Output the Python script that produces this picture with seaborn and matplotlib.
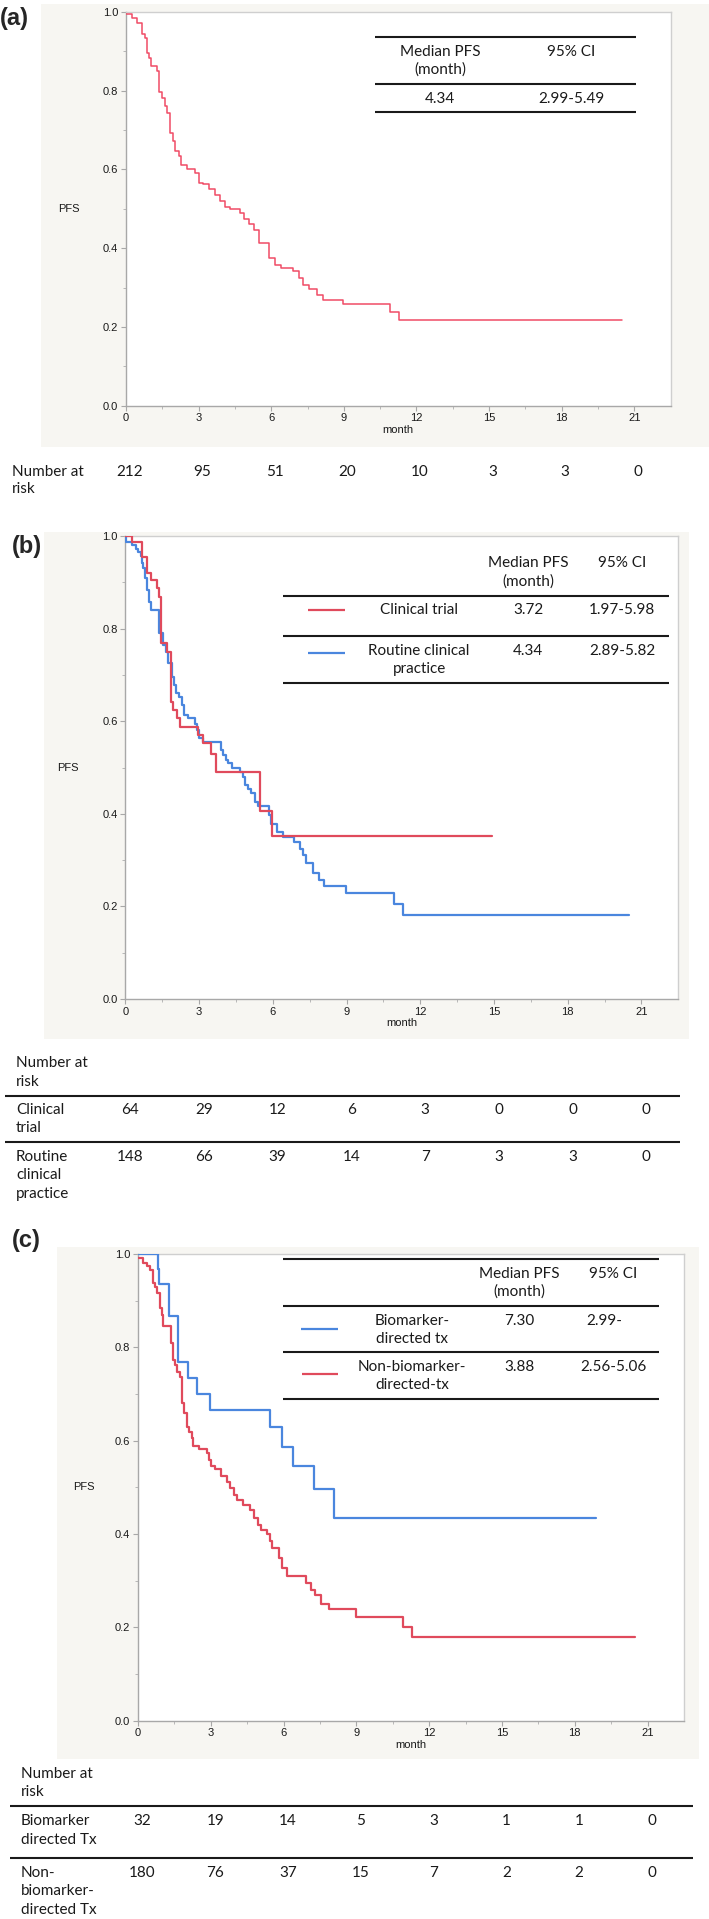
import matplotlib
matplotlib.use("Agg")
import numpy as np
import matplotlib.pyplot as plt
import seaborn as sns
from matplotlib.lines import Line2D
from matplotlib.patches import Rectangle
import matplotlib.transforms as mtrans

# ---------------- data ----------------
RISK_MONTHS = [0, 3, 6, 9, 12, 15, 18, 21]

# (a) overall
t_all = [0, 0.23, 0.44, 0.65, 0.79, 0.86, 0.93, 1.02, 1.27, 1.38, 1.48, 1.62, 1.71, 1.82, 1.93,
         2.03, 2.17, 2.28, 2.51, 2.86, 3.00, 3.20, 3.45, 3.69, 3.89, 4.10, 4.31, 4.72, 4.86, 5.07,
         5.27, 5.48, 5.89, 6.17, 6.41, 6.90, 7.14, 7.32, 7.55, 7.90, 8.13, 8.97, 10.9, 11.3, 20.5]
s_all = [0.994, 0.985, 0.972, 0.943, 0.934, 0.896, 0.883, 0.861, 0.850, 0.795, 0.782, 0.761, 0.744,
         0.693, 0.672, 0.646, 0.634, 0.612, 0.601, 0.591, 0.566, 0.562, 0.549, 0.536, 0.519, 0.504,
         0.498, 0.490, 0.473, 0.460, 0.447, 0.413, 0.375, 0.358, 0.350, 0.341, 0.324, 0.307, 0.295,
         0.282, 0.269, 0.257, 0.237, 0.218, 0.218]
risk_all = [212, 95, 51, 20, 10, 3, 3, 0]

# (b) clinical trial vs routine practice
t_trial = [0, 0.26, 0.67, 0.90, 1.03, 1.28, 1.38, 1.44, 1.68, 1.85, 1.96, 2.09, 2.23, 2.97, 3.17,
           3.47, 3.69, 5.48, 5.96, 14.9]
s_trial = [1.0, 0.986, 0.954, 0.921, 0.904, 0.887, 0.869, 0.768, 0.750, 0.642, 0.624, 0.606, 0.588,
           0.570, 0.552, 0.529, 0.491, 0.405, 0.351, 0.351]
t_routine = [0, 0.02, 0.26, 0.44, 0.53, 0.63, 0.67, 0.73, 0.80, 0.87, 0.95, 1.05, 1.38, 1.55, 1.64,
             1.75, 1.89, 1.98, 2.06, 2.20, 2.29, 2.40, 2.56, 2.84, 2.93, 3.01, 3.17, 3.89, 3.99, 4.10,
             4.19, 4.33, 4.67, 4.80, 4.87, 5.00, 5.10, 5.28, 5.41, 5.86, 5.93, 6.19, 6.43, 6.87, 7.11,
             7.23, 7.34, 7.63, 7.88, 8.09, 8.98, 10.92, 11.31, 20.5]
s_routine = [1.0, 0.986, 0.980, 0.973, 0.966, 0.957, 0.941, 0.930, 0.909, 0.883, 0.858, 0.840, 0.790,
             0.765, 0.750, 0.725, 0.696, 0.678, 0.660, 0.653, 0.635, 0.613, 0.606, 0.595, 0.582,
             0.563, 0.554, 0.538, 0.527, 0.516, 0.509, 0.500, 0.491, 0.480, 0.462, 0.453, 0.444,
             0.426, 0.417, 0.397, 0.379, 0.361, 0.350, 0.340, 0.325, 0.311, 0.293, 0.272, 0.257,
             0.243, 0.228, 0.205, 0.182, 0.182]
risk_trial = [64, 29, 12, 6, 3, 0, 0, 0]
risk_routine = [148, 66, 39, 14, 7, 3, 3, 0]

# (c) biomarker-directed vs non-biomarker-directed
t_bio = [0, 0.81, 0.88, 1.28, 1.64, 2.07, 2.42, 2.97, 5.46, 5.93, 6.37, 7.26, 8.09, 18.88]
s_bio = [1.0, 0.967, 0.935, 0.868, 0.769, 0.735, 0.701, 0.666, 0.630, 0.587, 0.546, 0.496, 0.435, 0.435]
t_nonbio = [0, 0.22, 0.38, 0.49, 0.60, 0.63, 0.68, 0.80, 0.91, 0.98, 1.02, 1.35, 1.43, 1.52, 1.59,
            1.73, 1.80, 1.89, 2.00, 2.11, 2.21, 2.28, 2.51, 2.83, 2.92, 2.99, 3.18, 3.42, 3.67, 3.80,
            3.97, 4.09, 4.31, 4.61, 4.78, 4.94, 5.07, 5.30, 5.44, 5.53, 5.81, 5.94, 6.16, 6.91, 7.11,
            7.30, 7.56, 7.87, 8.97, 10.9, 11.28, 20.5]
s_nonbio = [0.991, 0.980, 0.974, 0.966, 0.951, 0.937, 0.930, 0.916, 0.884, 0.869, 0.846, 0.809, 0.773,
            0.762, 0.748, 0.737, 0.680, 0.659, 0.630, 0.619, 0.605, 0.589, 0.582, 0.573, 0.559, 0.546,
            0.539, 0.524, 0.512, 0.498, 0.484, 0.473, 0.462, 0.451, 0.434, 0.419, 0.409, 0.400, 0.384,
            0.369, 0.348, 0.327, 0.310, 0.294, 0.280, 0.269, 0.251, 0.239, 0.223, 0.201, 0.179, 0.179]
risk_bio = [32, 19, 14, 5, 3, 1, 1, 0]
risk_nonbio = [180, 76, 37, 15, 7, 2, 2, 0]

# ---------------- style ----------------
sns.set_style("white")
plt.rcParams['font.family'] = ['Liberation Sans', 'DejaVu Sans']
TFONT = ['Lato', 'DejaVu Sans']
RED_A = '#f04c66'
RED = '#e04a5c'
BLUE = '#4a86de'
BG = '#f7f6f2'
TSIZE = 11

W, H = 709, 1919
fig = plt.figure(figsize=(W / 100, H / 100), dpi=100)


def fx(x):
    return x / W


def fy(y):
    return 1 - y / H


def bg(x0, y0, x1, y1):
    fig.patches.append(Rectangle((fx(x0), fy(y1)), (x1 - x0) / W, (y1 - y0) / H,
                                 transform=fig.transFigure, facecolor=BG, edgecolor='none', zorder=-5))


def hline(x0, x1, y, color='#1a1a1a', lw=1.5):
    fig.add_artist(Line2D([fx(x0), fx(x1)], [fy(y), fy(y)], transform=fig.transFigure,
                          color=color, lw=lw, solid_capstyle='butt', zorder=5))


def txt(x, y, s, ha='center', size=TSIZE):
    fig.text(fx(x), fy(y), s, ha=ha, va='center', fontsize=size, family=TFONT, color='#1a1a1a',
             zorder=6)


def make_ax(x0, x1, ytop, ybot):
    ax = fig.add_axes([fx(x0), fy(ybot), (x1 - x0) / W, (ybot - ytop) / H])
    ax.set_facecolor('white')
    ax.set_zorder(1)
    return ax


def style_ax(ax, label_x):
    ax.set_xlim(0, 22.5)
    ax.set_ylim(0, 1)
    ax.set_xticks(RISK_MONTHS)
    ax.set_xticks(np.arange(1.5, 22.5, 3), minor=True)
    yt = np.round(np.arange(0, 1.01, 0.2), 1)
    ax.set_yticks(yt)
    ax.set_yticklabels([f"{v:.1f}" for v in yt])
    ax.set_yticks(np.arange(0.1, 1.0, 0.2), minor=True)
    ax.tick_params(which='major', direction='out', length=3.4, width=0.8, color='#a8a8a8',
                   labelsize=8, labelcolor='#1a1a1a', pad=2.2, bottom=True, left=True)
    ax.tick_params(which='minor', direction='out', length=2.0, width=0.7, color='#b8b8b8',
                   bottom=True, left=True)
    for side in ['left', 'bottom']:
        ax.spines[side].set_color('#a8a8a8')
        ax.spines[side].set_linewidth(1.0)
    for side in ['top', 'right']:
        ax.spines[side].set_color('#cfcfcf')
        ax.spines[side].set_linewidth(1.0)
    ax.set_xlabel('month', fontsize=8, labelpad=1.2, color='#1a1a1a')
    ax.set_ylabel('PFS', fontsize=8, rotation=0, va='center', ha='center', color='#1a1a1a')
    ax.yaxis.set_label_coords(label_x, 0.5)


def km(ax, t, s, color, lw):
    sns.lineplot(x=t, y=s, ax=ax, color=color, lw=lw, drawstyle='steps-post',
                 estimator=None, sort=False, legend=False, zorder=3)


def risk_row(ax, values, y, shift=0.18):
    tr = mtrans.blended_transform_factory(ax.transData, fig.transFigure)
    for m, v in zip(RISK_MONTHS, values):
        fig.text(m + shift, fy(y), str(v), transform=tr, ha='center', va='center',
                 fontsize=TSIZE, family=TFONT, color='#1a1a1a', zorder=6)


# ---------------- panel (a) ----------------
bg(41, 4, 709, 447)
ax_a = make_ax(126, 670.5, 11.7, 405.7)
km(ax_a, t_all, s_all, RED_A, 1.1)
style_ax(ax_a, -0.105)
fig.text(fx(0), fy(18), '(a)', fontsize=17, fontweight='bold', ha='left', va='center')
hline(375, 636, 37); hline(375, 636, 84); hline(375, 636, 112)
txt(440, 52, 'Median PFS'); txt(440, 70, '(month)'); txt(571, 52, '95% CI')
txt(440, 99, '4.34'); txt(571, 99, '2.99-5.49')
txt(12, 472, 'Number at', ha='left'); txt(12, 489, 'risk', ha='left')
risk_row(ax_a, risk_all, 472, shift=0.15)

# ---------------- panel (b) ----------------
bg(44, 532, 689, 1039)
ax_b = make_ax(125.3, 678.3, 536, 999)
km(ax_b, t_routine, s_routine, BLUE, 1.6)
km(ax_b, t_trial, s_trial, RED, 1.6)
style_ax(ax_b, -0.104)
fig.text(fx(12), fy(546), '(b)', fontsize=17, fontweight='bold', ha='left', va='center')
txt(528, 563, 'Median PFS'); txt(528, 582, '(month)'); txt(622, 563, '95% CI')
hline(283, 669, 596)
hline(308, 345, 610, color=RED, lw=1.6)
txt(419, 610, 'Clinical trial'); txt(528, 610, '3.72'); txt(622, 610, '1.97-5.98')
hline(283, 669, 636)
hline(308, 345, 653, color=BLUE, lw=1.6)
txt(419, 651, 'Routine clinical'); txt(419, 669, 'practice')
txt(528, 651, '4.34'); txt(622, 651, '2.89-5.82')
hline(283, 669, 683)

txt(16, 1063, 'Number at', ha='left'); txt(16, 1082, 'risk', ha='left')
hline(5, 680, 1096)
txt(16, 1110, 'Clinical', ha='left'); txt(16, 1128, 'trial', ha='left')
risk_row(ax_b, risk_trial, 1110, shift=0.2)
hline(5, 680, 1142)
txt(16, 1157, 'Routine', ha='left'); txt(16, 1175, 'clinical', ha='left'); txt(16, 1194, 'practice', ha='left')
risk_row(ax_b, risk_routine, 1157, shift=0.2)

# ---------------- panel (c) ----------------
bg(57, 1247, 699, 1759)
ax_c = make_ax(138, 684, 1254, 1720.7)
km(ax_c, t_nonbio, s_nonbio, RED, 1.6)
km(ax_c, t_bio, s_bio, BLUE, 1.6)
style_ax(ax_c, -0.10)
fig.text(fx(12), fy(1240), '(c)', fontsize=17, fontweight='bold', ha='left', va='center')
hline(283, 659, 1259)
txt(519, 1274, 'Median PFS'); txt(519, 1292, '(month)'); txt(613, 1274, '95% CI')
hline(283, 659, 1306)
hline(301, 338, 1329, color=BLUE, lw=1.6)
txt(412, 1321, 'Biomarker-'); txt(412, 1339, 'directed tx')
txt(519, 1321, '7.30'); txt(586, 1321, '2.99-', ha='left')
hline(283, 659, 1352)
hline(302, 338, 1374, color=RED, lw=1.6)
txt(412, 1367, 'Non-biomarker-'); txt(412, 1385, 'directed-tx')
txt(519, 1367, '3.88'); txt(613, 1367, '2.56-5.06')
hline(283, 659, 1399)

txt(21, 1774, 'Number at', ha='left'); txt(21, 1792, 'risk', ha='left')
hline(10, 693, 1806)
txt(21, 1821, 'Biomarker', ha='left'); txt(21, 1840, 'directed Tx', ha='left')
risk_row(ax_c, risk_bio, 1821, shift=0.18)
hline(10, 693, 1858)
txt(21, 1873, 'Non-', ha='left'); txt(21, 1891, 'biomarker-', ha='left'); txt(21, 1910, 'directed Tx', ha='left')
risk_row(ax_c, risk_nonbio, 1873, shift=0.18)

fig.savefig('out.png', dpi=100)
